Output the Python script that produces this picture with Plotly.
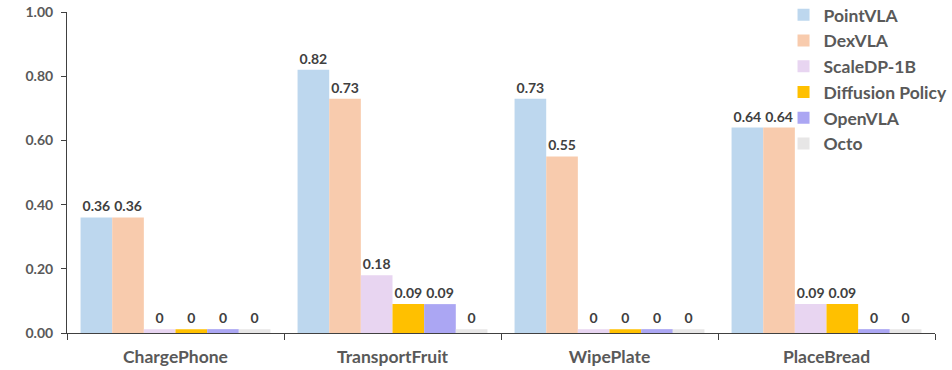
import plotly.graph_objects as go

categories = ["ChargePhone", "TransportFruit", "WipePlate", "PlaceBread"]
series_names = ["PointVLA", "DexVLA", "ScaleDP-1B", "Diffusion Policy", "OpenVLA", "Octo"]
pointvla = [0.36, 0.82, 0.73, 0.64]
dexvla = [0.36, 0.73, 0.55, 0.64]
scaledp = [0.0, 0.18, 0.0, 0.09]
diffusion_policy = [0.0, 0.09, 0.0, 0.09]
openvla = [0.0, 0.09, 0.0, 0.0]
octo = [0.0, 0.0, 0.0, 0.0]
y_ticks = [0.0, 0.2, 0.4, 0.6, 0.8, 1.0]

colors = ["#BDD7EE", "#F8CBAD", "#E8D5F1", "#FFC000", "#ABA6F3", "#E7E6E6"]
all_series = [pointvla, dexvla, scaledp, diffusion_policy, openvla, octo]

FONT = "Lato"
MIN_VISIBLE = 0.012  # zero values are drawn as a sliver, as in the reference

fig = go.Figure()
for name, vals, col in zip(series_names, all_series, colors):
    fig.add_trace(go.Bar(
        name=name,
        legendgroup=name,
        x=categories,
        y=[max(v, MIN_VISIBLE) for v in vals],
        marker=dict(color=col, line=dict(width=0)),
        text=["0" if v == 0 else f"{v:.2f}" for v in vals],
        textposition="outside",
        textfont=dict(family=FONT, size=14, color="#404040", weight="bold"),
        cliponaxis=False,
        hovertext=[str(v) for v in vals],
    ))

fig.update_layout(
    barmode="group",
    bargap=0.125,
    bargroupgap=0,
    width=952,
    height=370,
    margin=dict(l=67, r=17, t=12, b=37, autoexpand=False),
    plot_bgcolor="white",
    paper_bgcolor="white",
    font=dict(family=FONT, color="#595959"),
    legend=dict(
        x=0.8255, y=1.047, xanchor="left", yanchor="top",
        xref="paper", yref="paper",
        font=dict(family=FONT, size=17.5, color="#595959", weight="bold"),
        bgcolor="rgba(0,0,0,0)",
        itemclick=False,
        tracegroupgap=0,
    ),
    xaxis=dict(
        showline=True, linecolor="#404040", linewidth=1,
        ticks="outside", tickson="boundaries", ticklen=6, tickcolor="#404040",
        tickfont=dict(family=FONT, size=17.5, color="#595959", weight="bold"),
        ticklabelstandoff=8,
        showgrid=False,
    ),
    yaxis=dict(
        range=[0, 1.0], tickvals=y_ticks, tickformat=".2f",
        showline=True, linecolor="#404040", linewidth=1,
        ticks="outside", ticklen=5, tickcolor="#404040",
        tickfont=dict(family=FONT, size=14, color="#595959", weight="bold"),
        ticklabelstandoff=5, ticklabeloverflow="allow",
        showgrid=False, zeroline=False,
    ),
)

fig.write_html(
    "out.html",
    config={"displayModeBar": False},
    post_script="document.body.style.margin='0';",
)
